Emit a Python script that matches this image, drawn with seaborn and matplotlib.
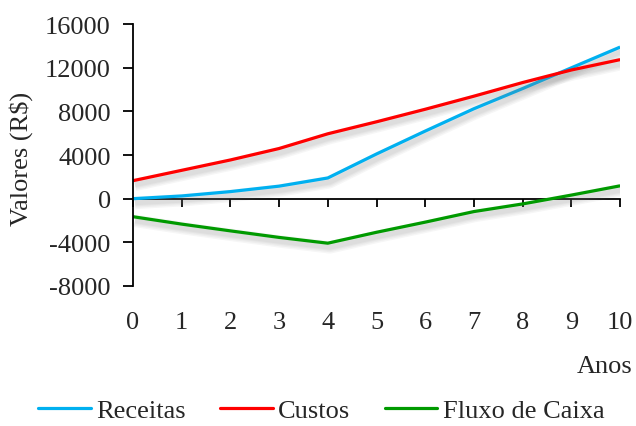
import pandas as pd
import matplotlib
matplotlib.use("Agg")
import matplotlib.pyplot as plt
import matplotlib.patheffects as pe
import seaborn as sns

anos = [0, 1, 2, 3, 4, 5, 6, 7, 8, 9, 10]
receitas = [0, 250, 650, 1150, 1900, 4100, 6200, 8250, 10100, 12000, 13900]
custos = [1650, 2600, 3550, 4600, 5950, 7050, 8200, 9400, 10650, 11800, 12750]
fluxo = [-1650, -2330, -2950, -3550, -4080, -3080, -2150, -1180, -480, 330, 1180]

series = ["Receitas", "Custos", "Fluxo de Caixa"]
cores = ["#00B0F0", "#FF0000", "#009A00"]
y_ticks = [-8000, -4000, 0, 4000, 8000, 12000, 16000]

df = pd.DataFrame({
    "Anos": anos * 3,
    "Valor": receitas + custos + fluxo,
    "Serie": [series[0]] * len(anos) + [series[1]] * len(anos) + [series[2]] * len(anos),
})

sns.set_style("white")
plt.rcParams["font.family"] = ["Liberation Serif", "DejaVu Serif"]
fs = 19

fig = plt.figure(figsize=(6.36, 4.27), dpi=100)
ax = fig.add_axes([0.209, 0.328, 0.766, 0.613])

sns.lineplot(data=df, x="Anos", y="Valor", hue="Serie", hue_order=series,
             palette=cores, linewidth=2.3, ax=ax, legend=False)

# soft shadow under each line
shadow = [pe.SimpleLineShadow(offset=(1.5, -3), shadow_color="gray", alpha=0.07, linewidth=w)
          for w in (9, 7, 5, 3.5)] + [pe.Normal()]
for line in ax.get_lines():
    line.set_path_effects(shadow)
    line.set_solid_capstyle("butt")

ax.set_xlim(0, 10)
ax.set_ylim(-8000, 16000)
ax.set_yticks(y_ticks)
ax.set_yticklabels([str(v) for v in y_ticks], fontsize=fs)
ax.set_xticks(anos)
ax.set_xticklabels([str(a) for a in anos], fontsize=fs)

for s in ["top", "right", "bottom"]:
    ax.spines[s].set_visible(False)
ax.spines["left"].set_color("black")
ax.spines["left"].set_linewidth(1.3)
ax.tick_params(axis="y", direction="out", length=7, width=1.3, color="black", pad=9, left=True)
ax.tick_params(axis="x", length=0, pad=18)

# x axis line at y = 0
sec = ax.secondary_xaxis(1 / 3)
sec.set_xticks(anos)
sec.set_xticklabels([])
sec.tick_params(direction="out", length=6, width=1.3, color="black")
sec.spines["bottom"].set_linewidth(1.3)
sec.spines["bottom"].set_color("black")

ax.set_ylabel("Valores (R$)", fontsize=fs)
ax.yaxis.set_label_coords(-0.205, 0.49)
ax.set_xlabel("")
fig.text(0.994, 0.14, "Anos", fontsize=fs, ha="right", va="center")

handles = [plt.Line2D([], [], color=c, linewidth=2.3) for c in cores]
fig.legend(handles, series, loc="center", bbox_to_anchor=(0.505, 0.037), ncol=3,
           frameon=False, fontsize=fs, handlelength=2.0, handletextpad=0.2,
           columnspacing=1.3, borderpad=0)

fig.savefig("out.png", dpi=100)
